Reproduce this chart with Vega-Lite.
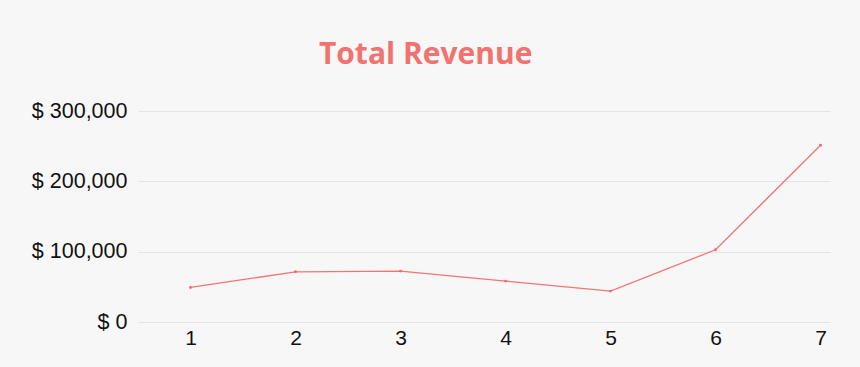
{
  "$schema": "https://vega.github.io/schema/vega-lite/v6.json",
  "width": 692,
  "height": 211,
  "autosize": {"type": "none"},
  "padding": {"left": 138, "top": 111, "right": 30, "bottom": 45},
  "background": "#f7f7f7",
  "title": {
    "text": "Total Revenue",
    "font": "Open Sans",
    "fontSize": 30,
    "fontWeight": "bold",
    "color": "#f07370",
    "anchor": "middle",
    "frame": "bounds",
    "offset": 30,
    "dx": -5
  },
  "data": {
    "values": [
      {"period": 1, "revenue": 49100},
      {"period": 2, "revenue": 71400},
      {"period": 3, "revenue": 72400},
      {"period": 4, "revenue": 58200},
      {"period": 5, "revenue": 44000},
      {"period": 6, "revenue": 102700},
      {"period": 7, "revenue": 251400}
    ]
  },
  "mark": {
    "type": "line",
    "color": "#f47474",
    "strokeWidth": 1.3,
    "point": {"filled": true, "size": 8, "color": "#f06a6a"}
  },
  "encoding": {
    "x": {
      "field": "period",
      "type": "quantitative",
      "scale": {"domain": [0.5, 7.09], "nice": false, "zero": false},
      "axis": {
        "title": null,
        "values": [1, 2, 3, 4, 5, 6, 7],
        "format": "d",
        "grid": false,
        "domain": false,
        "ticks": false,
        "labelFont": "Liberation Sans",
        "labelFontSize": 21,
        "labelColor": "#111111",
        "labelPadding": 5
      }
    },
    "y": {
      "field": "revenue",
      "type": "quantitative",
      "scale": {"domain": [0, 300000], "nice": false},
      "axis": {
        "title": null,
        "values": [0, 100000, 200000, 300000],
        "labelExpr": "'$ ' + format(datum.value, ',')",
        "grid": true,
        "gridColor": "#e4e4e4",
        "gridWidth": 1,
        "domain": false,
        "ticks": false,
        "labelFont": "Liberation Sans",
        "labelFontSize": 21.5,
        "labelColor": "#111111",
        "labelPadding": 11
      }
    }
  },
  "config": {"view": {"stroke": null}}
}
